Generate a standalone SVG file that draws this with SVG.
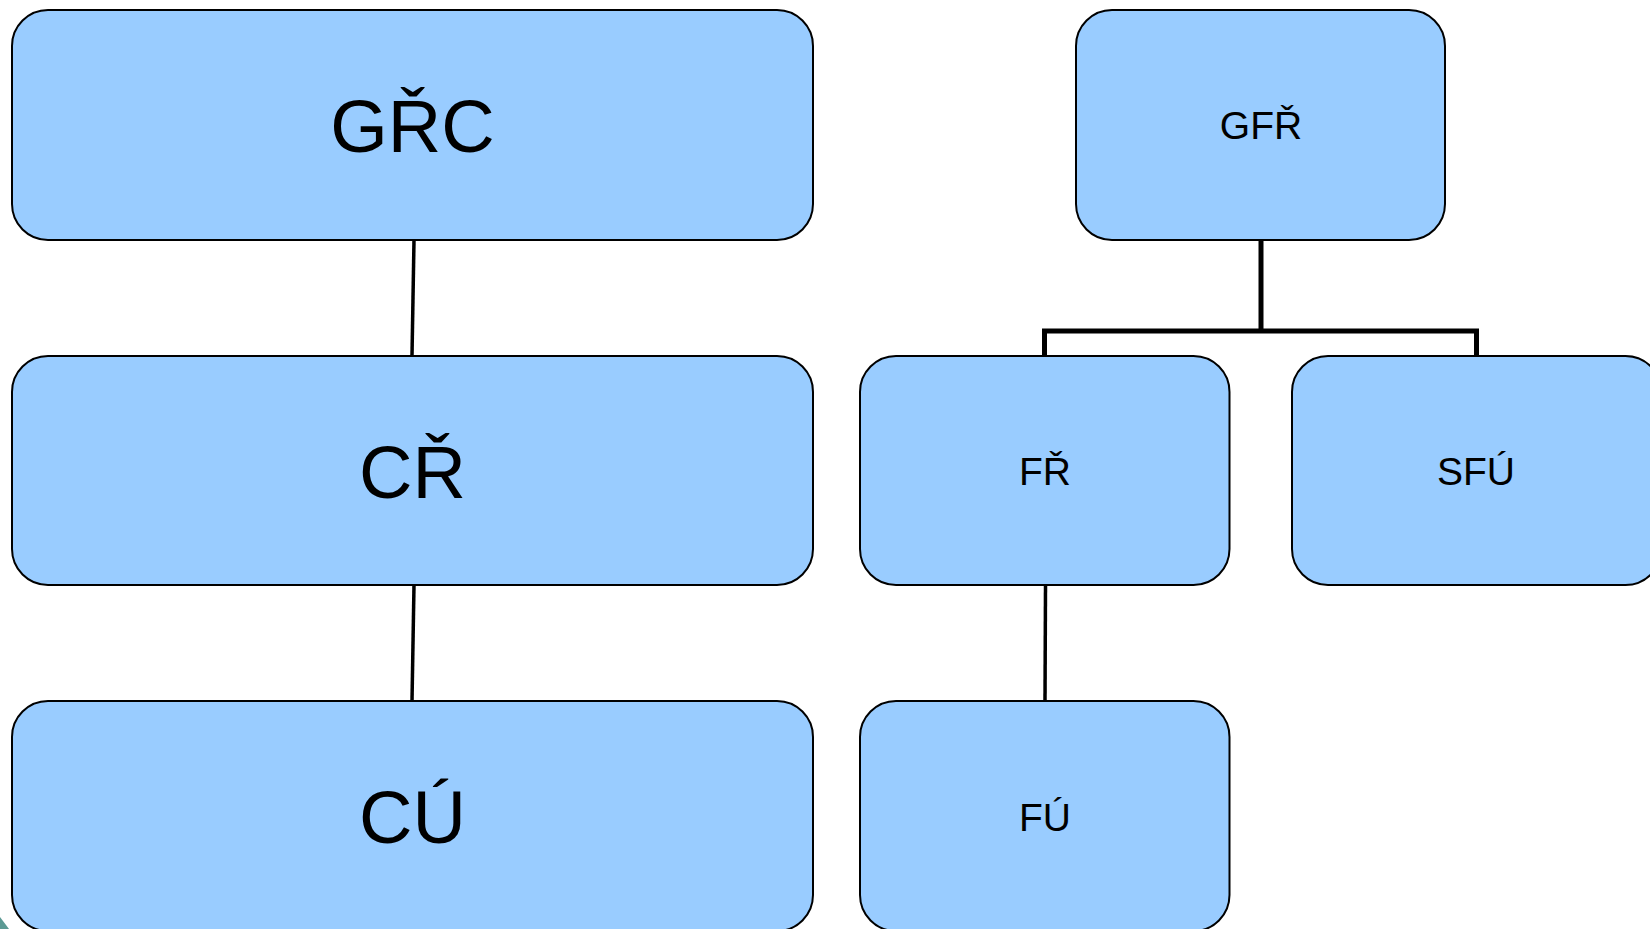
<svg xmlns="http://www.w3.org/2000/svg" width="1650" height="929" viewBox="0 0 1650 929">
<style>
.box{fill:#99ccff;stroke:#000;stroke-width:2}
.lbl{font-family:"Liberation Sans",Arial,sans-serif;fill:#000;text-anchor:middle}
.big{font-size:74px}
.small{font-size:39px}
.con{fill:none;stroke:#000;stroke-linejoin:miter}
</style>
<rect x="0" y="0" width="1650" height="929" fill="#ffffff"/>
<polygon points="0,917 9,929 0,929" fill="#5b9a94"/>
<g id="connectors">
<line class="con" x1="414" y1="240" x2="412" y2="356" stroke-width="3.5"/>
<line class="con" x1="414" y1="585" x2="412" y2="701" stroke-width="3.5"/>
<line class="con" x1="1045.5" y1="585" x2="1045" y2="701" stroke-width="3.5"/>
<line class="con" x1="1261" y1="240" x2="1261" y2="331" stroke-width="5"/>
<polyline class="con" points="1044.5,356 1044.5,331 1476.5,331 1476.5,356" stroke-width="5"/>
</g>
<g id="node-grc">
<rect class="box" x="12" y="10" width="801" height="230" rx="36" ry="36"/>
<text class="lbl big" x="412.5" y="152">GŘC</text>
</g>
<g id="node-cr">
<rect class="box" x="12" y="356" width="801" height="229" rx="36" ry="36"/>
<text class="lbl big" x="412.5" y="498">CŘ</text>
</g>
<g id="node-cu">
<rect class="box" x="12" y="701" width="801" height="230" rx="36" ry="36"/>
<text class="lbl big" x="412.5" y="843">CÚ</text>
</g>
<g id="node-gfr">
<rect class="box" x="1076" y="10" width="369" height="230" rx="36" ry="36"/>
<text class="lbl small" x="1261" y="139">GFŘ</text>
</g>
<g id="node-fr">
<rect class="box" x="860" y="356" width="369.5" height="229" rx="36" ry="36"/>
<text class="lbl small" x="1045" y="485">FŘ</text>
</g>
<g id="node-sfu">
<rect class="box" x="1292" y="356" width="369.5" height="229" rx="36" ry="36"/>
<text class="lbl small" x="1476" y="485">SFÚ</text>
</g>
<g id="node-fu">
<rect class="box" x="860" y="701" width="369.5" height="230" rx="36" ry="36"/>
<text class="lbl small" x="1045" y="831">FÚ</text>
</g>
</svg>
